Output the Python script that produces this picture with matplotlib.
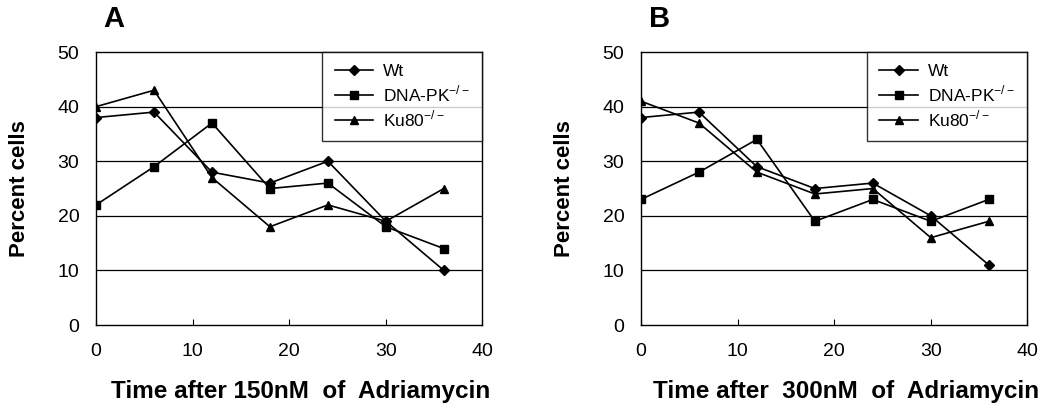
import matplotlib
matplotlib.use("Agg")
import matplotlib.pyplot as plt

plt.rcParams['font.family'] = ['Liberation Sans', 'DejaVu Sans']
plt.rcParams['mathtext.fontset'] = 'custom'
plt.rcParams['mathtext.rm'] = 'Liberation Sans'

hours = [0, 6, 12, 18, 24, 30, 36]

# panel A: 150nM
wt_a = [38, 39, 28, 26, 30, 19, 10]
dnapk_a = [22, 29, 37, 25, 26, 18, 14]
ku80_a = [40, 43, 27, 18, 22, 19, 25]

# panel B: 300nM
wt_b = [38, 39, 29, 25, 26, 20, 11]
dnapk_b = [23, 28, 34, 19, 23, 19, 23]
ku80_b = [41, 37, 28, 24, 25, 16, 19]

labels = ['Wt', 'DNA-PK$^{-/-}$', 'Ku80$^{-/-}$']
markers = ['D', 's', '^']
panels = [('A', 'Time after 150nM  of  Adriamycin', [wt_a, dnapk_a, ku80_a]),
          ('B', 'Time after  300nM  of  Adriamycin', [wt_b, dnapk_b, ku80_b])]

fig = plt.figure(figsize=(10.53, 4.13), dpi=100)
lefts = [0.0912, 0.6087]

for left, (letter, xlab, series) in zip(lefts, panels):
    ax = fig.add_axes([left, 0.213, 0.367, 0.661])
    for ys, lab, mk in zip(series, labels, markers):
        ax.plot(hours, ys, color='black', lw=1.2, marker=mk,
                ms=6 if mk != 'D' else 5, label=lab)
    for g in [10, 20, 30, 40]:
        ax.axhline(g, color='black', lw=0.9, zorder=0)
    ax.set_xlim(0, 40)
    ax.set_ylim(0, 50)
    ax.set_xticks([0, 10, 20, 30, 40])
    ax.set_yticks([0, 10, 20, 30, 40, 50])
    ax.tick_params(axis='x', direction='in', length=4, pad=13, labelsize=14)
    ax.tick_params(axis='y', length=0, pad=12, labelsize=14)
    for s in ax.spines.values():
        s.set_linewidth(1.0)
    ax.set_ylabel('Percent cells', fontsize=16, fontweight='bold', labelpad=20)
    ax.set_xlabel(xlab, fontsize=17.5, fontweight='bold', labelpad=17)
    ax.xaxis.set_label_coords(0.53, -0.2)
    ax.text(0.02, 1.07, letter, transform=ax.transAxes, fontsize=21,
            fontweight='bold', va='bottom')
    leg = ax.legend(loc='upper right', bbox_to_anchor=(1.0, 1.0),
                    fontsize=12.5, frameon=True, fancybox=False,
                    borderaxespad=0, handlelength=2.2, borderpad=0.7,
                    labelspacing=0.25, handletextpad=0.6)
    leg.get_frame().set_edgecolor('black')
    leg.get_frame().set_linewidth(1.0)

fig.savefig('out.png', dpi=100)
